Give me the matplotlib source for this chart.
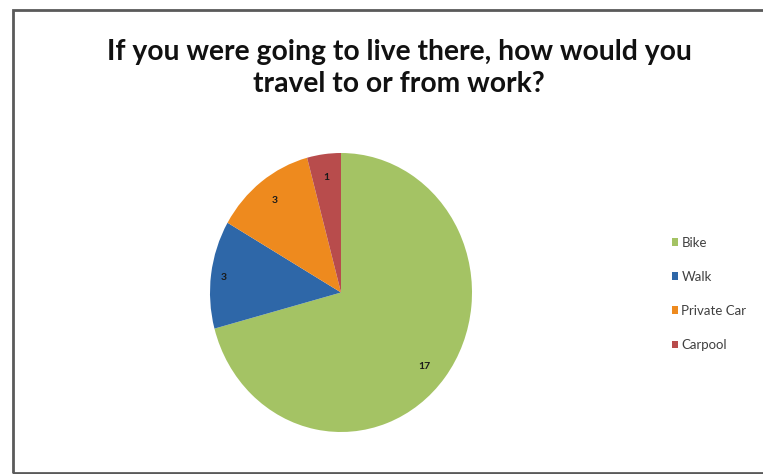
import matplotlib
matplotlib.use("Agg")
import matplotlib.pyplot as plt
from matplotlib.patches import Rectangle, Patch

categories = ["Bike", "Walk", "Private Car", "Carpool"]
values = [17, 3, 3, 1]
colors = ["#A4C364", "#2E67A8", "#EE8A1E", "#B84C4C"]
title = "If you were going to live there, how would you\ntravel to or from work?"

W, H = 763, 474
fig = plt.figure(figsize=(W / 100, H / 100), dpi=100)
fig.patch.set_facecolor("white")

# outer frame
fig.patches.append(Rectangle((13 / W, 1 - 473 / H), (780 - 13) / W, (473 - 10) / H,
                             transform=fig.transFigure, fill=False,
                             edgecolor="#5a5a5a", linewidth=2.0, zorder=0))

ax = fig.add_axes([210 / W, (H - 432) / H, 262 / W, 279 / H])
wedges, texts, autotexts = ax.pie(values, colors=colors, startangle=90, counterclock=False,
                                  autopct=lambda p: f"{round(p * sum(values) / 100):d}",
                                  pctdistance=0.83, radius=1.0,
                                  wedgeprops=dict(linewidth=0),
                                  textprops=dict(fontsize=7.5, color="#1a1a1a",
                                                 family="Lato", fontweight="bold"))
# Walk label sits a bit further out (best-fit placement)
x, y = autotexts[1].get_position()
autotexts[1].set_position((x * 0.9 / 0.83, y))
x, y = autotexts[0].get_position()
autotexts[0].set_position((x * 0.97, y * 1.05))
ax.set_aspect("auto")
ax.set_xlim(-1, 1)
ax.set_ylim(-1, 1)
ax.axis("off")

fig.text(399 / W, 1 - 68 / H, title, ha="center", va="center", fontsize=20.3,
         fontweight="bold", family="Lato", color="#111111", linespacing=1.25)

handles = [Patch(facecolor=c, edgecolor="none") for c in colors]
leg = fig.legend(handles, categories, loc="upper left",
                 bbox_to_anchor=(665 / W, 1 - 230 / H), frameon=False,
                 fontsize=9.5, handlelength=0.5, handleheight=0.5,
                 handletextpad=0.25, labelspacing=1.68, borderpad=0)
for t in leg.get_texts():
    t.set_color("#404040")
    t.set_family("Lato")

fig.savefig("out.png", dpi=100)
